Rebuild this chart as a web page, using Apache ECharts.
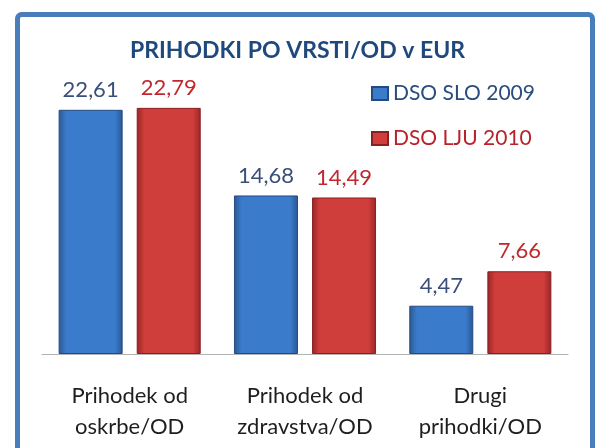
<!DOCTYPE html>
<html>
<head>
<meta charset="utf-8">
<title>Prihodki po vrsti/OD</title>
<style>
  html, body { margin: 0; padding: 0; background: #ffffff; }
  #main { width: 595px; height: 448px; }
</style>
</head>
<body>
<div id="main"></div>
<script src="https://cdn.jsdelivr.net/npm/echarts@6/dist/echarts.min.js"></script>
<script>
// kategorije in vrednosti (EUR)
var categories = ['Prihodek od\noskrbe/OD', 'Prihodek od\nzdravstva/OD', 'Drugi\nprihodki/OD'];
var slo2009 = [22.61, 14.68, 4.47];
var lju2010 = [22.79, 14.49, 7.66];
var seriesNames = ['DSO SLO 2009', 'DSO LJU 2010'];

var FONT = 'Lato';

// 3D-ish vodoravni preliv za stolpce
function barGradient(edge, mid) {
    return new echarts.graphic.LinearGradient(0, 0, 1, 0, [
        { offset: 0, color: edge },
        { offset: 0.12, color: mid },
        { offset: 0.88, color: mid },
        { offset: 1, color: edge }
    ]);
}

function fmt(p) {
    return p.value.toFixed(2).replace('.', ',');
}

var option = {
    backgroundColor: '#ffffff',
    animation: false,
    title: {
        text: 'PRIHODKI PO VRSTI/OD v EUR',
        left: 'center',
        top: 34,
        textStyle: { fontFamily: FONT, fontSize: 23, fontWeight: 'bold', color: '#1F497D' }
    },
    legend: {
        orient: 'vertical',
        left: 366,
        top: 76,
        itemWidth: 16,
        itemHeight: 13,
        itemGap: 20,
        icon: 'rect',
        textStyle: { fontFamily: FONT, fontSize: 21, lineHeight: 25 },
        data: [
            { name: seriesNames[0], textStyle: { color: '#2B4C7E' } },
            { name: seriesNames[1], textStyle: { color: '#B8232B' } }
        ]
    },
    grid: { left: 42, right: 27, top: 84, bottom: 94 },
    xAxis: {
        type: 'category',
        data: categories,
        axisTick: { show: false },
        axisLine: { lineStyle: { color: '#B3B3B3', width: 1 } },
        axisLabel: {
            fontFamily: FONT, fontSize: 22, lineHeight: 31,
            color: '#1E1E1E', margin: 26, interval: 0
        }
    },
    yAxis: {
        type: 'value',
        min: 0,
        max: 25,
        show: false,
        splitLine: { show: false }
    },
    series: [
        {
            name: seriesNames[0],
            type: 'bar',
            data: slo2009,
            barWidth: 64,
            barGap: '22%',
            itemStyle: {
                color: barGradient('#2A5791', '#3B7BCB'),
                borderColor: '#244B80',
                borderWidth: 1
            },
            label: {
                show: true, position: 'top', distance: 9,
                formatter: fmt,
                fontFamily: FONT, fontSize: 22, color: '#3A5078'
            }
        },
        {
            name: seriesNames[1],
            type: 'bar',
            data: lju2010,
            barWidth: 64,
            itemStyle: {
                color: barGradient('#9A2426', '#CF3E3B'),
                borderColor: '#8A1F22',
                borderWidth: 1
            },
            label: {
                show: true, position: 'top', distance: 9,
                formatter: fmt,
                fontFamily: FONT, fontSize: 22, color: '#C0282D'
            }
        }
    ],
    graphic: [
        {
            type: 'rect',
            silent: true,
            shape: { x: 17.5, y: 14.5, width: 575, height: 450, r: 4 },
            style: { fill: null, stroke: '#4A7EBB', lineWidth: 5 }
        }
    ]
};

var myChart = echarts.init(document.getElementById('main'));
myChart.setOption(option);
</script>
</body>
</html>
